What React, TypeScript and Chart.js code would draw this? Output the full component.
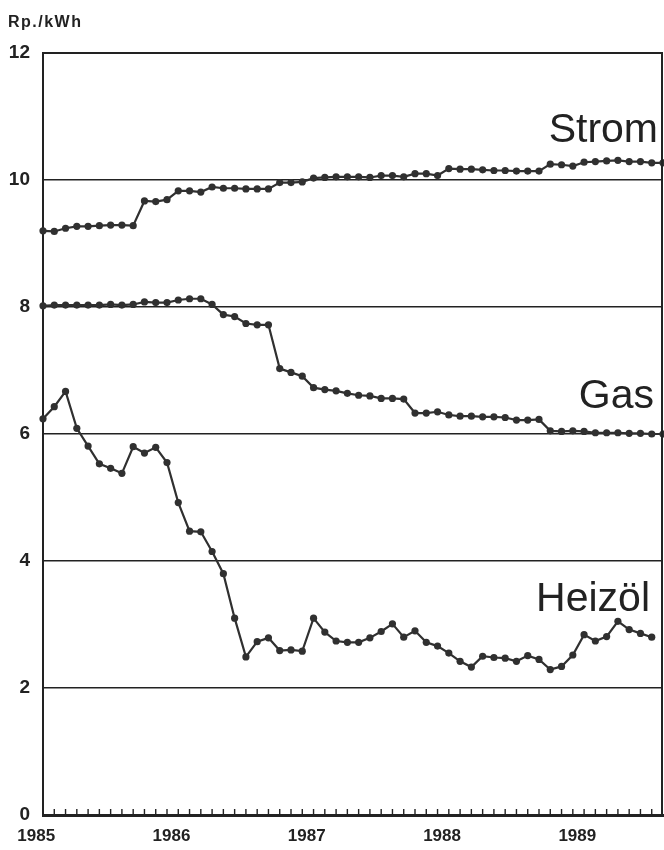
import React, { useEffect, useRef } from "react";
import { Chart, registerables } from "chart.js";

Chart.register(...registerables);

// Monthly values, January 1985 onward (index = month number)
const yearTicks = [-0.6, 11.4, 23.4, 35.4, 47.4];
const yearLabels = ["1985", "1986", "1987", "1988", "1989"];
const unitLabel = "Rp./kWh";

const strom = [
  9.2, 9.19, 9.24, 9.27, 9.27, 9.28, 9.29, 9.29, 9.28, 9.67, 9.66, 9.69,
  9.83, 9.83, 9.81, 9.89, 9.87, 9.87, 9.86, 9.86, 9.86, 9.96, 9.96, 9.97,
  10.03, 10.04, 10.05, 10.05, 10.05, 10.04, 10.07, 10.07, 10.05, 10.1, 10.1, 10.07,
  10.18, 10.17, 10.17, 10.16, 10.15, 10.15, 10.14, 10.14, 10.14, 10.25, 10.24, 10.22,
  10.28, 10.29, 10.3, 10.31, 10.29, 10.29, 10.27, 10.27,
];

const gas = [
  8.02, 8.03, 8.03, 8.03, 8.03, 8.03, 8.04, 8.03, 8.04, 8.08, 8.07, 8.07,
  8.11, 8.13, 8.13, 8.04, 7.88, 7.85, 7.74, 7.72, 7.72, 7.03, 6.97, 6.91,
  6.73, 6.7, 6.68, 6.64, 6.61, 6.6, 6.56, 6.56, 6.55, 6.33, 6.33, 6.35,
  6.3, 6.28, 6.28, 6.27, 6.27, 6.26, 6.22, 6.22, 6.23, 6.05, 6.04, 6.05,
  6.04, 6.02, 6.02, 6.02, 6.01, 6.01, 6.0, 6.0,
];

const heizoel = [
  6.24, 6.43, 6.67, 6.09, 5.81, 5.53, 5.46, 5.38, 5.8, 5.7, 5.79, 5.55,
  4.92, 4.47, 4.46, 4.15, 3.8, 3.1, 2.49, 2.73, 2.79, 2.59, 2.6, 2.58,
  3.1, 2.88, 2.74, 2.72, 2.72, 2.79, 2.89, 3.01, 2.8, 2.9, 2.72, 2.66,
  2.55, 2.42, 2.33, 2.5, 2.48, 2.47, 2.42, 2.51, 2.45, 2.29, 2.34, 2.52,
  2.84, 2.74, 2.81, 3.05, 2.92, 2.86, 2.8,
];

const seriesNames = ["Strom", "Gas", "Heizöl"];

const INK = "#222222";
const LINE = "#303030";
const FONT = '"Liberation Sans", Arial, sans-serif';

const toPoints = (arr: number[]) => arr.map((v, i) => ({ x: i, y: v }));

const decorPlugin = {
  id: "decor",
  afterDraw(chart: any) {
    const { ctx, chartArea: a, scales } = chart;
    const x = scales.x;
    const y = scales.y;
    ctx.save();
    // right frame
    ctx.strokeStyle = INK;
    ctx.lineWidth = 2;
    ctx.beginPath();
    ctx.moveTo(a.right - 1, a.top);
    ctx.lineTo(a.right - 1, a.bottom);
    ctx.stroke();
    // monthly minor ticks along the bottom axis
    ctx.lineWidth = 1.4;
    ctx.beginPath();
    for (let i = 1; i < 55; i++) {
      const px = x.getPixelForValue(i);
      ctx.moveTo(px, a.bottom);
      ctx.lineTo(px, a.bottom - 6);
    }
    ctx.stroke();
    // unit label
    ctx.fillStyle = INK;
    ctx.font = `bold 16px ${FONT}`;
    (ctx as any).letterSpacing = "1.5px";
    ctx.textAlign = "left";
    ctx.textBaseline = "alphabetic";
    ctx.fillText(unitLabel, 8, 27);
    (ctx as any).letterSpacing = "0px";
    // series names
    ctx.font = `41px ${FONT}`;
    ctx.textAlign = "right";
    const anchors = [10.6, 6.41, 3.21];
    const rights = [a.right - 5, a.right - 9, a.right - 13];
    seriesNames.forEach((name, i) => {
      ctx.fillText(name, rights[i], y.getPixelForValue(anchors[i]));
    });
    ctx.restore();
  },
};

export default function App() {
  const ref = useRef<HTMLCanvasElement | null>(null);

  useEffect(() => {
    if (!ref.current) return;
    const ds = (data: number[], label: string) => ({
      label,
      data: toPoints(data),
      borderColor: LINE,
      backgroundColor: LINE,
      borderWidth: 2.2,
      pointRadius: 3.6,
      pointBackgroundColor: LINE,
      pointBorderWidth: 0,
      tension: 0,
      clip: 6,
    });
    const chart = new Chart(ref.current, {
      type: "line",
      data: {
        datasets: [ds(strom, seriesNames[0]), ds(gas, seriesNames[1]), ds(heizoel, seriesNames[2])],
      },
      options: {
        animation: false,
        responsive: false,
        layout: { autoPadding: false, padding: { top: 53, right: 1, left: 0, bottom: 0 } },
        plugins: { legend: { display: false }, tooltip: { enabled: false } },
        scales: {
          x: {
            type: "linear",
            min: 0,
            max: 55,
            grid: { display: false, drawTicks: false },
            border: { display: true, color: INK, width: 3 },
            afterBuildTicks: (scale: any) => {
              scale.ticks = yearTicks.map((v) => ({ value: v }));
            },
            afterFit: (scale: any) => {
              scale.height = 35;
              scale.paddingLeft = 0;
              scale.paddingRight = 0;
            },
            ticks: {
              autoSkip: false,
              maxRotation: 0,
              padding: 11,
              color: INK,
              font: { family: FONT, size: 17, weight: "bold" },
              callback: (v: any) => {
                const k = yearTicks.indexOf(Number(v));
                return k >= 0 ? yearLabels[k] : "";
              },
            },
          },
          y: {
            min: 0,
            max: 12,
            grid: {
              color: INK,
              lineWidth: (c: any) => (c.tick && c.tick.value === 12 ? 2 : 1.5),
              drawTicks: false,
            },
            border: { display: true, color: INK, width: 2 },
            afterFit: (scale: any) => {
              scale.width = 43;
            },
            ticks: {
              stepSize: 2,
              padding: 13,
              color: INK,
              font: { family: FONT, size: 19, weight: "bold" },
            },
          },
        },
      },
      plugins: [decorPlugin],
    });
    return () => chart.destroy();
  }, []);

  return (
    <div style={{ position: "absolute", left: 0, top: 0, width: 664, height: 850, background: "#fff" }}>
      <canvas ref={ref} width={664} height={850} style={{ width: 664, height: 850, display: "block" }} />
    </div>
  );
}
